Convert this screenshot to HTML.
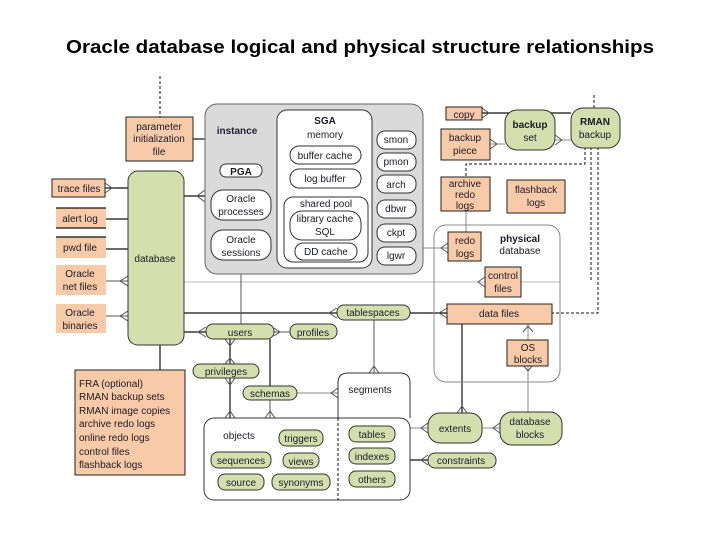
<!DOCTYPE html>
<html><head><meta charset="utf-8"><style>
html,body{margin:0;padding:0;background:#fff;}
svg{display:block;}
text{font-family:"Liberation Sans",sans-serif;font-size:10px;fill:#1a1a2a;text-anchor:middle;}
.o{fill:#f9caa7;stroke:#222;stroke-width:1;}
.on{fill:#f9caa7;stroke:none;}
.g{fill:#d5dfae;stroke:#333;stroke-width:1;}
.w{fill:#fff;stroke:#333;stroke-width:1;}
.l{stroke:#111;stroke-width:1.2;fill:none;}
.lg{stroke:#888;stroke-width:1;fill:none;}
.ll{stroke:#bbb;stroke-width:1;fill:none;}
.d{stroke:#111;stroke-width:1;fill:none;stroke-dasharray:3,2;}
.c{stroke:#555;stroke-width:1;fill:none;}
</style></head><body>
<svg width="720" height="540" viewBox="0 0 720 540" xmlns="http://www.w3.org/2000/svg">
<text x="360" y="53" style="font-size:18px;fill:#000;font-weight:bold" textLength="588" lengthAdjust="spacingAndGlyphs">Oracle database logical and physical structure relationships</text>

<line class="ll" x1="184" y1="282" x2="560" y2="282"/>
<line class="d" x1="160" y1="76" x2="160" y2="117"/>
<line class="l" x1="193" y1="139" x2="205" y2="139"/>
<line class="d" x1="594" y1="95" x2="594" y2="108"/>
<polyline class="d" points="585,147 585,164 466,164 466,177"/>
<line class="d" x1="591" y1="147" x2="591" y2="282"/>
<polyline class="d" points="598,147 598,313 552,313"/>

<line class="l" x1="105" y1="188" x2="128" y2="188"/>
<line class="l" x1="106" y1="219" x2="128" y2="219"/>
<line class="l" x1="106" y1="249" x2="128" y2="249"/>
<line class="c" x1="106" y1="281" x2="128" y2="281"/>
<line class="c" x1="106" y1="316" x2="128" y2="316"/>
<path class="c" d="M128,276 L120,281 L128,286 M128,311 L120,316 L128,321 M105,183 L112,188 L105,193"/>

<line class="l" x1="184" y1="196" x2="205" y2="196"/>
<path class="c" d="M205,190 L197,196 L205,202"/>
<line class="l" x1="184" y1="313" x2="337" y2="313"/>
<path class="c" d="M337,308 L329,313 L337,318"/>
<line class="l" x1="410" y1="313" x2="447" y2="313"/>
<path class="c" d="M447,308 L439,313 L447,318"/>
<line class="l" x1="184" y1="332" x2="206" y2="332"/>
<path class="c" d="M206,327 L198,332 L206,337"/>
<line class="l" x1="160" y1="345" x2="160" y2="370"/>
<line class="c" x1="241" y1="260" x2="241" y2="324"/>
<path class="c" d="M236,260 L241,268 L246,260"/>
<line class="c" x1="274" y1="332" x2="290" y2="332"/>
<path class="c" d="M274,328 L280,332 L274,336"/>
<line class="l" x1="230" y1="339" x2="230" y2="418"/>
<path class="c" d="M225,339 L230,346 L235,339 M225,364 L230,358 L235,364 M225,378 L230,385 L235,378 M225,418 L230,411 L235,418"/>
<line class="l" x1="270" y1="339" x2="270" y2="386"/>
<line class="c" x1="270" y1="400" x2="270" y2="418"/>
<path class="c" d="M265,418 L270,411 L275,418"/>
<line class="lg" x1="297" y1="393" x2="338" y2="393"/>
<path class="c" d="M338,388 L331,393 L338,398"/>
<line class="c" x1="374" y1="320" x2="374" y2="373"/>
<path class="c" d="M369,373 L374,366 L379,373"/>
<line class="l" x1="462" y1="324" x2="462" y2="413"/>
<path class="c" d="M457,413 L462,406 L467,413"/>
<line class="lg" x1="528" y1="324" x2="528" y2="340"/>
<path class="c" d="M523,332 L528,326 L533,332"/>
<line class="lg" x1="528" y1="365" x2="528" y2="412"/>
<path class="c" d="M523,365 L528,371 L533,365"/>
<line class="lg" x1="410" y1="428" x2="428" y2="428"/>
<path class="c" d="M428,423 L421,428 L428,433"/>
<line class="lg" x1="482" y1="428" x2="500" y2="428"/>
<path class="c" d="M500,423 L493,428 L500,433"/>
<line class="l" x1="410" y1="460" x2="428" y2="460"/>
<path class="c" d="M428,455 L421,460 L428,465"/>

<line class="l" x1="482" y1="113" x2="571" y2="113"/>
<path class="c" d="M482,108 L489,113 L482,118"/>
<line class="lg" x1="490" y1="144" x2="505" y2="144"/>
<path class="c" d="M490,139 L497,144 L490,149"/>
<line class="lg" x1="555" y1="140" x2="571" y2="140"/>
<path class="c" d="M555,135 L562,140 L555,145"/>
<line class="lg" x1="466" y1="211" x2="466" y2="232"/>
<line class="lg" x1="423" y1="248" x2="448" y2="248"/>
<path class="c" d="M448,243 L441,248 L448,253"/>
<path class="c" d="M485,277 L478,282 L485,287"/>

<rect x="205" y="104" width="218" height="170" rx="12" fill="#dadada" stroke="#666"/>
<text x="237" y="134" style="font-weight:bold;fill:#223">instance</text>
<rect x="277" y="110" width="95" height="158" rx="10" class="w"/>
<text x="325" y="124" style="font-weight:bold">SGA</text>
<text x="325" y="138">memory</text>
<rect x="290" y="146" width="71" height="18" rx="9" class="w"/><text x="325" y="159">buffer cache</text>
<rect x="290" y="169" width="71" height="19" rx="9" class="w"/><text x="325" y="182">log buffer</text>
<rect x="284" y="197" width="84" height="65" rx="9" class="w"/>
<text x="326" y="207">shared pool</text>
<rect x="290" y="211" width="71" height="29" rx="12" class="w"/><text x="325" y="222">library cache</text><text x="325" y="235">SQL</text>
<rect x="295" y="243" width="62" height="17" rx="8" class="w"/><text x="326" y="255">DD cache</text>
<rect x="220" y="164" width="42" height="13" rx="6" class="w"/><text x="241" y="175" style="font-weight:bold">PGA</text>
<rect x="211" y="190" width="60" height="30" rx="12" class="w"/><text x="241" y="202">Oracle</text><text x="241" y="215">processes</text>
<rect x="211" y="230" width="60" height="30" rx="12" class="w"/><text x="241" y="243">Oracle</text><text x="241" y="256">sessions</text>
<rect x="377" y="131" width="39" height="18" rx="8" class="w"/><text x="396" y="143">smon</text>
<rect x="377" y="153" width="39" height="18" rx="8" class="w"/><text x="396" y="165">pmon</text>
<rect x="377" y="175" width="39" height="18" rx="8" class="w"/><text x="396" y="188">arch</text>
<rect x="377" y="200" width="39" height="18" rx="8" class="w"/><text x="396" y="212">dbwr</text>
<rect x="377" y="224" width="39" height="18" rx="8" class="w"/><text x="396" y="236">ckpt</text>
<rect x="377" y="247" width="39" height="18" rx="8" class="w"/><text x="396" y="259">lgwr</text>

<rect x="126" y="117" width="67" height="44" class="o"/>
<text x="159" y="130">parameter</text><text x="159" y="142">initialization</text><text x="159" y="155">file</text>
<rect x="52" y="179" width="53" height="18" class="o"/><text x="79" y="192">trace files</text>
<rect x="56" y="208" width="50" height="20" class="on"/><line class="l" x1="56" y1="208" x2="106" y2="208"/><line class="l" x1="56" y1="228" x2="106" y2="228"/><text x="80" y="222">alert log</text>
<rect x="56" y="237" width="50" height="21" class="on"/><line class="l" x1="56" y1="237" x2="106" y2="237"/><text x="80" y="251">pwd file</text>
<rect x="56" y="265" width="50" height="30" class="on"/><text x="80" y="277">Oracle</text><text x="80" y="290">net files</text>
<rect x="56" y="304" width="50" height="29" class="on"/><text x="80" y="316">Oracle</text><text x="80" y="329">binaries</text>
<rect x="128" y="171" width="56" height="174" rx="10" class="g"/><text x="155" y="262">database</text>

<rect x="75" y="370" width="110" height="105" class="o"/>
<g style="font-size:9.5px">
<text x="79" y="387" style="text-anchor:start">FRA (optional)</text>
<text x="79" y="400" style="text-anchor:start">RMAN backup sets</text>
<text x="79" y="414" style="text-anchor:start">RMAN image copies</text>
<text x="79" y="427" style="text-anchor:start">archive redo logs</text>
<text x="79" y="441" style="text-anchor:start">online redo logs</text>
<text x="79" y="455" style="text-anchor:start">control files</text>
<text x="79" y="468" style="text-anchor:start">flashback logs</text>
</g>

<rect x="337" y="305" width="73" height="15" rx="7" class="g"/><text x="373" y="316">tablespaces</text>
<rect x="206" y="324" width="68" height="15" rx="7" class="g"/><text x="240" y="336">users</text>
<rect x="290" y="324" width="47" height="15" rx="7" class="g"/><text x="313" y="336">profiles</text>
<rect x="193" y="364" width="66" height="14" rx="7" class="g"/><text x="226" y="375">privileges</text>
<rect x="243" y="386" width="54" height="14" rx="7" class="g"/><text x="270" y="397">schemas</text>
<path d="M338,418 L338,383 Q338,373 348,373 L400,373 Q410,373 410,383 L410,418" class="w"/>
<text x="370" y="393">segments</text>
<rect x="204" y="418" width="206" height="82" rx="10" class="w"/>
<line class="d" x1="338" y1="418" x2="338" y2="500"/>
<text x="239" y="439">objects</text>
<rect x="279" y="430" width="44" height="16" rx="7" class="g"/><text x="301" y="442">triggers</text>
<rect x="211" y="452" width="60" height="16" rx="7" class="g"/><text x="241" y="464">sequences</text>
<rect x="283" y="453" width="36" height="15" rx="7" class="g"/><text x="301" y="465">views</text>
<rect x="218" y="474" width="46" height="16" rx="7" class="g"/><text x="241" y="486">source</text>
<rect x="272" y="474" width="58" height="16" rx="7" class="g"/><text x="301" y="486">synonyms</text>
<rect x="349" y="426" width="46" height="16" rx="7" class="g"/><text x="372" y="438">tables</text>
<rect x="349" y="448" width="46" height="16" rx="7" class="g"/><text x="372" y="460">indexes</text>
<rect x="349" y="471" width="46" height="16" rx="7" class="g"/><text x="372" y="483">others</text>
<rect x="428" y="413" width="54" height="30" rx="12" class="g"/><text x="455" y="432">extents</text>
<rect x="500" y="412" width="62" height="33" rx="12" class="g"/><text x="530" y="425">database</text><text x="530" y="438">blocks</text>
<rect x="428" y="453" width="68" height="15" rx="7" class="g"/><text x="461" y="464">constraints</text>

<rect x="434" y="225" width="126" height="157" rx="12" fill="none" stroke="#888"/>
<text x="520" y="242" style="font-weight:bold">physical</text>
<text x="520" y="254">database</text>
<rect x="448" y="232" width="33" height="29" class="o"/><text x="465" y="244">redo</text><text x="465" y="257">logs</text>
<rect x="485" y="267" width="36" height="30" class="o"/><text x="503" y="279">control</text><text x="503" y="292">files</text>
<rect x="447" y="304" width="105" height="20" class="o"/><text x="499" y="317">data files</text>
<rect x="507" y="340" width="41" height="26" class="o"/><text x="528" y="351">OS</text><text x="528" y="363">blocks</text>
<rect x="441" y="177" width="49" height="34" class="o"/><g style="font-size:9.5px"><text x="465" y="187">archive</text><text x="465" y="198">redo</text><text x="465" y="209">logs</text></g>
<rect x="507" y="180" width="58" height="33" class="o"/><text x="536" y="193">flashback</text><text x="536" y="206">logs</text>
<rect x="446" y="107" width="36" height="13" class="o"/><text x="464" y="118">copy</text>
<rect x="441" y="129" width="49" height="31" class="o"/><text x="465" y="141">backup</text><text x="465" y="154">piece</text>
<rect x="505" y="110" width="50" height="40" rx="12" class="g"/><text x="530" y="128" style="font-weight:bold">backup</text><text x="530" y="141">set</text>
<rect x="571" y="108" width="49" height="40" rx="12" class="g"/><text x="595" y="125" style="font-weight:bold">RMAN</text><text x="595" y="138">backup</text>
</svg>
</body></html>
